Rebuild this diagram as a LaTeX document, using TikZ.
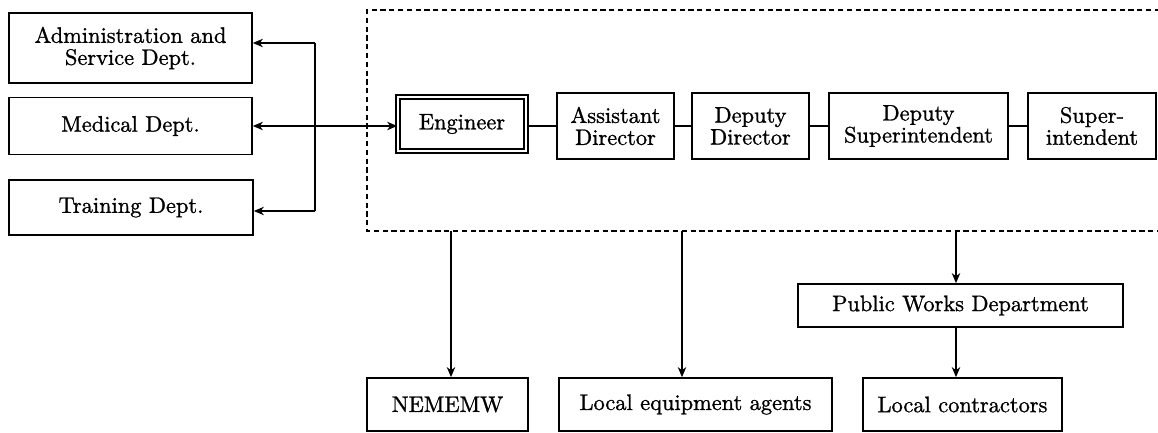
\documentclass[tikz,border=0pt]{standalone}
\usepackage{fontspec}
\newfontfamily\diafont{lmroman10-regular.otf}[FakeBold=1.1]
\usetikzlibrary{arrows.meta}
\begin{document}
\begin{tikzpicture}[x=0.5pt,y=-0.5pt,
  box/.style={draw, line width=0.85pt, inner sep=0pt, align=center,
    font=\diafont\fontsize{11.2}{11}\selectfont},
  conn/.style={line width=0.75pt},
  arr/.style={line width=0.75pt, -{Stealth[length=5pt,width=4.2pt,inset=1.5pt]}},
  dashbox/.style={line width=0.75pt, dash pattern=on 2.6pt off 1.8pt}
]
\useasboundingbox (0,0) rectangle (1158,433);

% left departments
\node[box, minimum width=121.5pt, minimum height=35pt] (admin) at (130.5,48) {Administration and\\Service Dept.};
\node[box, minimum width=121.5pt, minimum height=28.5pt] (med) at (130.5,126) {Medical Dept.};
\node[box, minimum width=122pt, minimum height=27.5pt] (train) at (131,207.5) {Training Dept.};

% top row
\node[box, double, double distance=1.3pt, line width=0.8pt, minimum width=64pt, minimum height=27pt] (eng) at (462,124) {Engineer};
\node[box, minimum width=58.5pt, minimum height=33pt] (ad) at (615.5,126) {Assistant\\Director};
\node[box, minimum width=58.5pt, minimum height=33pt] (dd) at (750.5,126) {Deputy\\Director};
\node[box, minimum width=89.5pt, minimum height=33pt] (ds) at (918.5,126) {Deputy\\Superintendent};
\node[box, minimum width=64pt, minimum height=33pt] (si) at (1092,126) {Super-\\intendent};

% lower boxes
\node[box, minimum width=162.5pt, minimum height=21.5pt] (pwd) at (960.5,305.5) {Public Works Department};
\node[box, minimum width=80.5pt, minimum height=26.5pt] (nem) at (447.5,404.5) {NEMEMW};
\node[box, minimum width=136.5pt, minimum height=26.5pt] (lea) at (695.5,404.5) {Local equipment agents};
\node[box, minimum width=99.5pt, minimum height=26.5pt] (lc) at (962.5,404.5) {Local contractors};

% dashed frame (open to the right edge)
\coordinate (fTR) at (1160,10);
\coordinate (fTL) at (367,10);
\coordinate (fBL) at (367,231);
\coordinate (fBR) at (1160,231);
\draw[dashbox] (fTR) -- (fTL) -- (fBL) -- (fBR);

% left bracket
\coordinate (vT) at (315,43);
\coordinate (vB) at (315,211);
\draw[conn] (vT) -- (vB);
\draw[arr] (vT) -- (admin.east |- vT);
\draw[arr] (vB) -- (train.east |- vB);
\draw[arr] (vT |- med.east) -- (med.east);
\draw[arr] (vT |- med.east) -- (eng.west |- med.east);

% top row connections
\draw[conn] (eng.east |- ad.west) -- (ad.west);
\draw[conn] (ad.east) -- (dd.west);
\draw[conn] (dd.east) -- (ds.west);
\draw[conn] (ds.east) -- (si.west);

% downward arrows
\coordinate (b1) at (451,231);
\coordinate (b2) at (682,231);
\coordinate (b3) at (956,231);
\draw[arr] (b1) -- (b1 |- nem.north);
\draw[arr] (b2) -- (b2 |- lea.north);
\draw[arr] (b3) -- (b3 |- pwd.north);
\draw[arr] (b3 |- pwd.south) -- (b3 |- lc.north);
\end{tikzpicture}
\end{document}
